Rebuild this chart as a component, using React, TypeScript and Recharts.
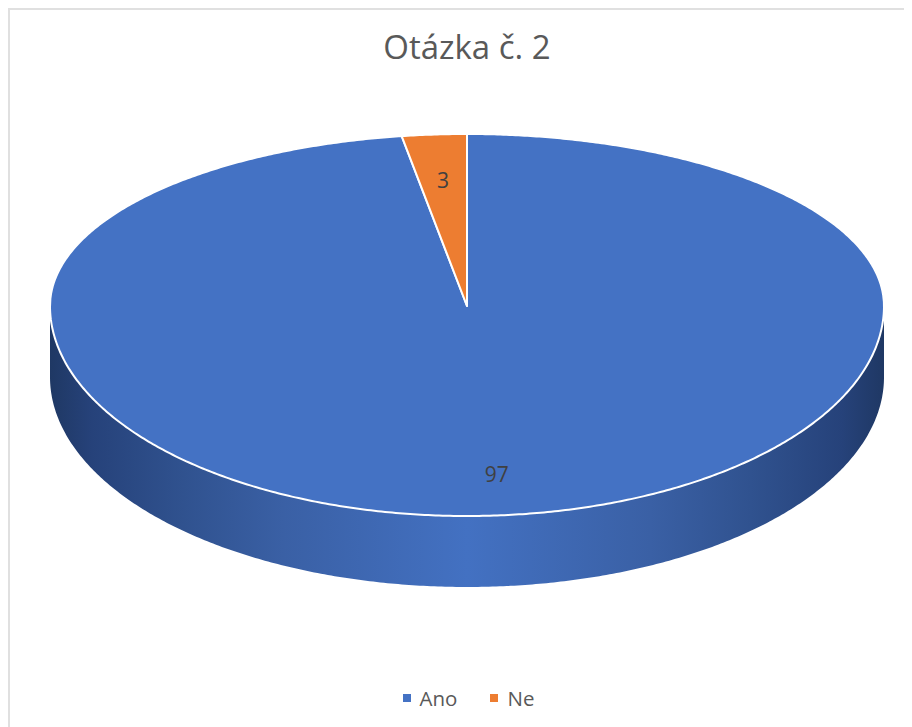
import { PieChart, Pie, Cell, Legend } from 'recharts';

const categories = ['Ano', 'Ne'];
const values = [97, 3];
const colors = ['#4472C4', '#ED7D31'];

const data = categories.map((name, i) => ({ name, value: values[i] }));

const FONT = '"Open Sans", "Noto Sans", sans-serif';
const TEXT = '#595959';
const RAD = Math.PI / 180;

// the picture is a tilted disc: back half flatter than the front half
const BACK = 172 / 417;
const FRONT = 210 / 417;
const DEPTH = 71;
const BACK_SQUEEZE = 0.2;

// library angle (degrees, 90 = 12 o'clock) -> point on the tilted disc
function project(cx: number, cy: number, r: number, deg: number, f = 1) {
  const th = (90 - deg) * RAD;
  let s = Math.sin(th);
  const c = Math.cos(th);
  if (c > 0) {
    s = s / (1 + BACK_SQUEEZE * c);
    const c2 = Math.sqrt(1 - s * s);
    return { x: cx + r * s * f, y: cy - r * BACK * c2 * f };
  }
  return { x: cx + r * s * f, y: cy - r * FRONT * c * f };
}

function TiltedSector(props: any) {
  const { cx, cy, outerRadius, startAngle, endAngle, fill, index } = props;
  const steps = Math.max(2, Math.ceil(Math.abs(startAngle - endAngle) * 2));
  const pts: string[] = [];
  for (let i = 0; i <= steps; i++) {
    const p = project(cx, cy, outerRadius, startAngle + ((endAngle - startAngle) * i) / steps);
    pts.push(`${p.x.toFixed(2)} ${p.y.toFixed(2)}`);
  }
  const top = `M${cx} ${cy}L${pts.join('L')}Z`;

  // side wall, only the big sector runs along the front half
  let wall = null;
  if (index === 0) {
    const front: any[] = [];
    for (let d = 0; d >= -180; d -= 0.5) {
      front.push(project(cx, cy, outerRadius, d));
    }
    const upper = front.map((p) => `${p.x.toFixed(2)} ${p.y.toFixed(2)}`).join('L');
    const lower = front
      .slice()
      .reverse()
      .map((p) => `${p.x.toFixed(2)} ${(p.y + DEPTH).toFixed(2)}`)
      .join('L');
    wall = <path d={`M${upper}L${lower}Z`} fill="url(#wallShade)" />;
  }

  return (
    <g>
      <defs>
        <linearGradient id="wallShade" x1="0" y1="0" x2="1" y2="0">
          <stop offset="0" stopColor="#1F3864" />
          <stop offset="0.05" stopColor="#26427A" />
          <stop offset="0.16" stopColor="#30528F" />
          <stop offset="0.28" stopColor="#3A60A5" />
          <stop offset="0.5" stopColor="#4371C2" />
          <stop offset="0.72" stopColor="#3A60A5" />
          <stop offset="0.84" stopColor="#30528F" />
          <stop offset="0.95" stopColor="#26427A" />
          <stop offset="1" stopColor="#1F3864" />
        </linearGradient>
      </defs>
      {wall}
      <path d={top} fill={fill} stroke="#FFFFFF" strokeWidth={2} strokeLinejoin="round" />
    </g>
  );
}

function renderLabel(props: any) {
  const { cx, cy, outerRadius, midAngle, value } = props;
  const isFront = Math.cos((90 - midAngle) * RAD) < 0;
  const p = project(cx, cy, outerRadius, midAngle, isFront ? 0.81 : 0.73);
  return (
    <text
      x={p.x + (isFront ? -2 : 0)}
      y={p.y - 1}
      textAnchor="middle"
      dominantBaseline="central"
      fontFamily={FONT}
      fontSize={21}
      fill="#404040"
    >
      {value}
    </text>
  );
}

function LegendRow({ payload }: any) {
  return (
    <div style={{ display: 'flex', justifyContent: 'center', gap: 33, lineHeight: '28px' }}>
      {(payload || []).map((it: any) => (
        <div key={it.value} style={{ display: 'flex', alignItems: 'center', gap: 9 }}>
          <span style={{ width: 8, height: 8, background: it.color, display: 'block' }} />
          <span style={{ color: TEXT }}>{it.value}</span>
        </div>
      ))}
    </div>
  );
}

export default function App() {
  return (
    <div
      style={{
        position: 'relative',
        width: 904,
        height: 719,
        boxSizing: 'border-box',
        borderLeft: '2px solid #E0E0E0',
        borderTop: '2px solid #E0E0E0',
        background: '#fff',
      }}
    >
      <PieChart width={902} height={717} margin={{ top: 0, right: 0, bottom: 0, left: 0 }}>
        <text
          x={457}
          y={36}
          textAnchor="middle"
          dominantBaseline="central"
          fontFamily={FONT}
          fontSize={33}
          fill={TEXT}
        >
          Otázka č. 2
        </text>
        <Pie
          data={data}
          dataKey="value"
          nameKey="name"
          cx={457}
          cy={296}
          outerRadius={417}
          startAngle={90}
          endAngle={-270}
          stroke="none"
          shape={TiltedSector}
          label={renderLabel}
          labelLine={false}
          isAnimationActive={false}
        >
          {categories.map((c, i) => (
            <Cell key={c} fill={colors[i]} />
          ))}
        </Pie>
        <Legend
          verticalAlign="bottom"
          align="center"
          content={LegendRow}
          wrapperStyle={{ left: 0, width: 917, bottom: 15, fontFamily: FONT, fontSize: 20.5 }}
        />
      </PieChart>
    </div>
  );
}
